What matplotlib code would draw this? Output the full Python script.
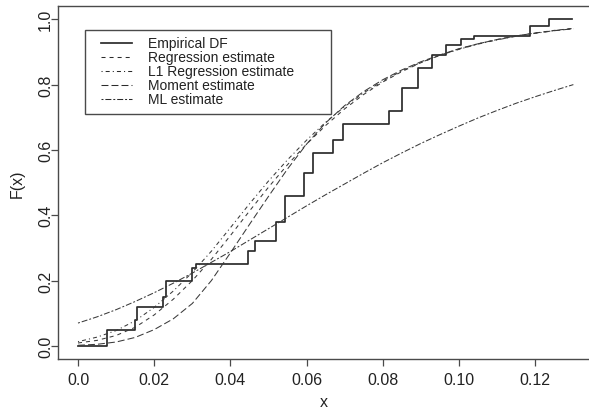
import matplotlib
matplotlib.use("Agg")
import matplotlib.pyplot as plt
from matplotlib.lines import Line2D
from matplotlib.patches import Rectangle

plt.rcParams['font.family'] = ['Liberation Sans', 'DejaVu Sans']
plt.rcParams['lines.scale_dashes'] = False

# ---------------- data ----------------
# empirical distribution function: jump locations and levels after each jump
ecdf_x = [0.0, 0.0075, 0.0150, 0.0155, 0.0222, 0.0231, 0.0298, 0.0310, 0.0447,
          0.0465, 0.0520, 0.0543, 0.0593, 0.0618, 0.0668, 0.0696, 0.0817, 0.0850,
          0.0891, 0.0930, 0.0966, 0.1004, 0.1040, 0.1186, 0.1237]
ecdf_y = [0.0, 0.05, 0.08, 0.12, 0.15, 0.20, 0.238, 0.25, 0.29,
          0.32, 0.38, 0.46, 0.53, 0.59, 0.63, 0.68, 0.72, 0.79,
          0.85, 0.89, 0.92, 0.94, 0.95, 0.98, 1.0]
ecdf_end = 0.1296

x_grid = [0.000, 0.005, 0.010, 0.015, 0.020, 0.025, 0.030, 0.035, 0.040,
          0.045, 0.050, 0.055, 0.060, 0.065, 0.070, 0.075, 0.080, 0.085,
          0.090, 0.095, 0.100, 0.105, 0.110, 0.115, 0.120, 0.125, 0.130]

regression = [0.009, 0.017, 0.032, 0.057, 0.095, 0.143, 0.200, 0.265, 0.338,
              0.413, 0.486, 0.555, 0.618, 0.675, 0.726, 0.770, 0.808, 0.840,
              0.867, 0.890, 0.909, 0.925, 0.938, 0.949, 0.958, 0.966, 0.972]
l1_regression = [0.013, 0.027, 0.047, 0.077, 0.118, 0.168, 0.225, 0.290, 0.362,
                 0.435, 0.505, 0.570, 0.630, 0.685, 0.733, 0.775, 0.811, 0.842,
                 0.868, 0.890, 0.908, 0.924, 0.937, 0.948, 0.957, 0.965, 0.972]
moment = [0.002, 0.005, 0.012, 0.026, 0.050, 0.083, 0.130, 0.200, 0.285,
          0.372, 0.458, 0.542, 0.618, 0.683, 0.736, 0.779, 0.815, 0.845,
          0.870, 0.891, 0.910, 0.925, 0.938, 0.949, 0.958, 0.965, 0.971]
ml = [0.070, 0.089, 0.111, 0.136, 0.163, 0.192, 0.223, 0.256, 0.289,
      0.324, 0.359, 0.394, 0.429, 0.463, 0.496, 0.529, 0.561, 0.591,
      0.620, 0.647, 0.673, 0.698, 0.721, 0.743, 0.763, 0.782, 0.800]

legend_labels = ["Empirical DF", "Regression estimate", "L1 Regression estimate",
                 "Moment estimate", "ML estimate"]
x_ticks = [0.0, 0.02, 0.04, 0.06, 0.08, 0.10, 0.12]
x_tick_labels = ["0.0", "0.02", "0.04", "0.06", "0.08", "0.10", "0.12"]
y_ticks = [0.0, 0.2, 0.4, 0.6, 0.8, 1.0]
y_tick_labels = ["0.0", "0.2", "0.4", "0.6", "0.8", "1.0"]

# ---------------- styles ----------------
W, H = 589, 410
ink = '#2b2b2b'
curve_ink = '#3a3a3a'
frame = '#4a4a4a'
sty_dashed = (0, (2.9, 2.9))
sty_dotdash = (0, (0.8, 2.2, 2.9, 2.2))
sty_long = (0, (5.0, 2.2))
sty_twodash = (0, (1.4, 1.4, 4.3, 1.4))

fig = plt.figure(figsize=(W / 100, H / 100), dpi=100)
ax = fig.add_axes([58 / W, (H - 360) / H, (W - 58) / W, (360 - 7.2) / H])

sx = list(ecdf_x) + [ecdf_end]
sy = list(ecdf_y) + [ecdf_y[-1]]
ax.step(sx, sy, where='post', color=ink, lw=1.25)
ax.plot(x_grid, regression, color=curve_ink, lw=0.75, linestyle=sty_dashed)
ax.plot(x_grid, l1_regression, color=curve_ink, lw=0.75, linestyle=sty_dotdash)
ax.plot(x_grid, moment, color=curve_ink, lw=0.75, linestyle=sty_long)
ax.plot(x_grid, ml, color=curve_ink, lw=0.75, linestyle=sty_twodash)

ax.set_xlim(-0.00525, 0.1341)
ax.set_ylim(-0.04, 1.04)
ax.spines['right'].set_visible(False)
for s in ['left', 'top', 'bottom']:
    ax.spines[s].set_color(frame)
    ax.spines[s].set_linewidth(1.0)

ax.set_xticks(x_ticks)
ax.set_xticklabels(x_tick_labels)
ax.set_yticks(y_ticks)
ax.set_yticklabels(y_tick_labels, rotation=90, va='center')
ax.tick_params(axis='both', length=4.7, width=0.9, color=frame,
               labelsize=11.5, labelcolor='#222222')
ax.tick_params(axis='x', pad=5)
ax.tick_params(axis='y', pad=-1.2)

ax.set_xlabel('x', fontsize=11.5, color='#222222', labelpad=4.5)
ax.set_ylabel('F(x)', fontsize=11.5, color='#222222', labelpad=9.5)

# ---------------- legend box (drawn manually, R style) ----------------
def fx(px):
    return px / W

def fy(py):
    return 1 - py / H

fig.add_artist(Rectangle((fx(85), fy(115)), fx(330.7) - fx(85), fy(30.7) - fy(115),
                         transform=fig.transFigure, fill=False, edgecolor=frame, lw=1.0))
styles = ['-', sty_dashed, sty_dotdash, sty_long, sty_twodash]
widths = [1.25, 0.75, 0.75, 0.75, 0.75]
rows = [44, 58, 72, 86, 100]
for lab, st, lw, r in zip(legend_labels, styles, widths, rows):
    fig.add_artist(Line2D([fx(100.7), fx(131.7)], [fy(r), fy(r)], transform=fig.transFigure,
                          color=ink, lw=lw, linestyle=st))
    fig.text(fx(148.3), fy(r), lab, fontsize=10, color='#222222', va='center', ha='left')

fig.savefig('out.png', dpi=100)
